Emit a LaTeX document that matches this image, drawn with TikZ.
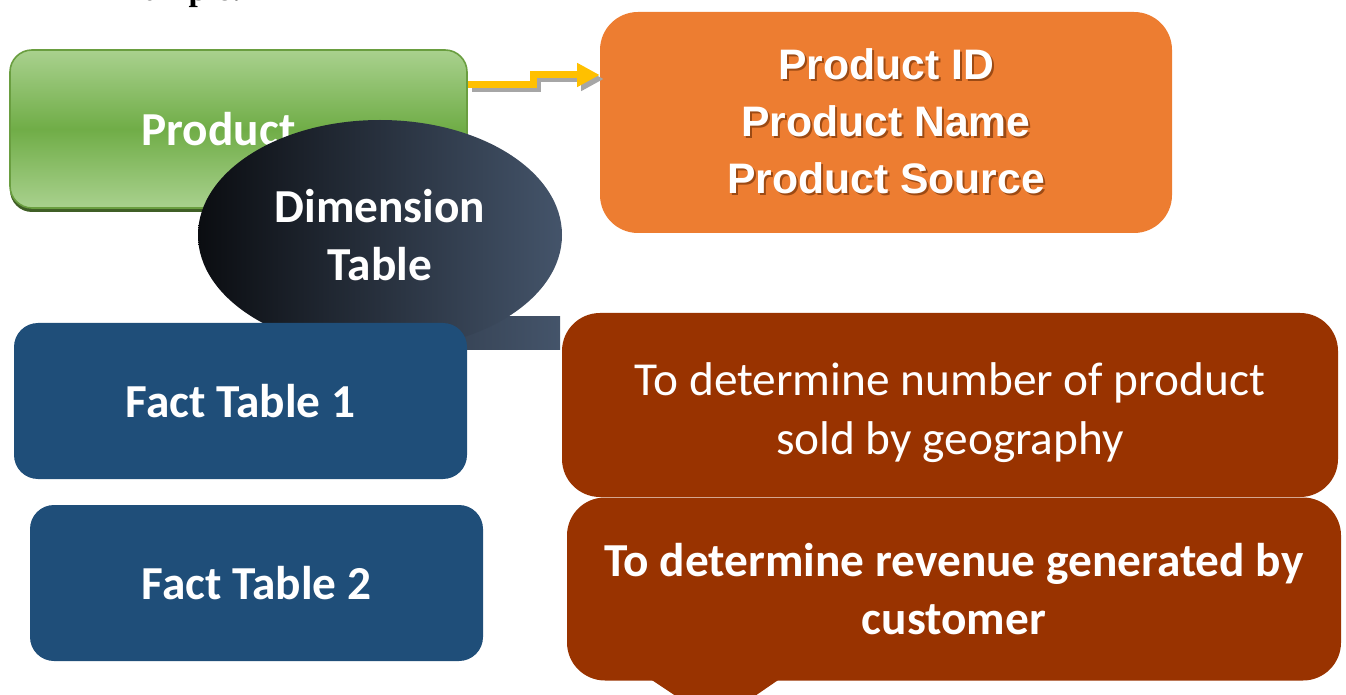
\documentclass[tikz,border=0pt]{standalone}
\usepackage{fontspec}
\setmainfont{Carlito}
\newfontfamily\arialfont{Liberation Sans}
\newfontfamily\timesfont{Liberation Serif}
\usetikzlibrary{shapes.geometric,arrows.meta,shadows}

\definecolor{greenmid}{HTML}{70AD47}
\definecolor{greenlight}{HTML}{A9D18E}
\definecolor{greenedge}{HTML}{6A9E40}
\definecolor{orangebox}{HTML}{ED7D31}
\definecolor{orangeshade}{HTML}{9C4A14}
\definecolor{darkblue}{HTML}{1F4E79}
\definecolor{brownbox}{HTML}{993300}
\definecolor{slatedark}{HTML}{0B0D11}
\definecolor{slatelight}{HTML}{44546A}
\definecolor{arrowgold}{HTML}{FFC000}

% white text with a soft shadow, one line at a time
\newcommand{\shline}[1]{\makebox[0pt][l]{\hspace{1.6pt}\raisebox{-1.6pt}{\color{orangeshade}#1}}#1}

\tikzset{
  boxtext/.style={text=white, align=center, font=\fontsize{35.5pt}{43pt}\selectfont\bfseries},
  greenbox/.style={rectangle, rounded corners=16.5pt, minimum width=342.75pt,
    minimum height=118.5pt, draw=greenedge, line width=1.2pt,
    top color=greenlight, bottom color=greenlight, middle color=greenmid,
    drop shadow={shadow xshift=0pt, shadow yshift=-3pt, fill=greenedge!60!black, opacity=1}},
  attrbox/.style={rectangle, rounded corners=28.5pt, minimum width=429pt,
    minimum height=165.75pt, fill=orangebox, text=white, align=center,
    font=\arialfont\fontsize{32pt}{42.75pt}\selectfont\bfseries},
  dimnode/.style={ellipse, inner sep=0pt, minimum width=273pt, minimum height=172.5pt,
    left color=slatedark, right color=slatelight, boxtext},
  factbox/.style={rectangle, rounded corners=18pt, minimum width=339.75pt,
    minimum height=117pt, fill=darkblue, boxtext},
  goalbox/.style={rectangle, rounded corners=28.5pt, minimum width=582pt,
    minimum height=138pt, fill=brownbox, boxtext},
  goldarrow/.style={draw=arrowgold, line width=5.25pt, line join=miter,
    -{Triangle[length=17pt,width=17pt]}},
}

\begin{document}
\begin{tikzpicture}[x=0.75pt, y=-0.75pt]
  \path[use as bounding box, clip] (0,0) rectangle (1346,695);

  % heading, cut at the top
  \node[anchor=base west, inner sep=0pt, font=\timesfont\fontsize{25pt}{30pt}\selectfont\bfseries]
    (head) at (105,1) {Example:};

  % product box and its attributes
  \node[greenbox, label={[boxtext, xshift=-15pt]center:Product}] (prod) at (238.5,129) {};
  \node[attrbox] (attr) at (886,122.5)
    {\shline{Product ID}\\ \shline{Product Name}\\ \shline{Product Source}};

  % stepped arrow with its grey shadow
  \draw[goldarrow, draw=black!35, transform canvas={xshift=3pt, yshift=-3pt}]
    (prod.east |- 0,85) -- (533,85) -- (533,75) -- (attr.west |- 0,75);
  \draw[goldarrow] (prod.east |- 0,85) -- (533,85) -- (533,75) -- (attr.west |- 0,75);

  % dimension table callout
  \shade[left color=slatelight!74!slatedark, right color=slatelight]
    (440,317) -- (560,317) -- (560,350) -- (440,350) -- cycle;
  \node[dimnode] (dim) at (380,235) {Dimension\\Table};

  % fact tables
  \node[factbox] (fact1) at (240.5,401) {Fact Table 1};
  \node[factbox] (fact2) at (256.5,583) {Fact Table 2};

  % purposes
  \node[goalbox, label={[boxtext, yshift=-6pt, font=\fontsize{35.5pt}{44.25pt}\selectfont]center:To determine number of product\\sold by geography}]
    (goal1) at (950,405) {};
  \node[goalbox, minimum width=580.5pt, minimum height=137.25pt, font=\fontsize{35.5pt}{44pt}\selectfont\bfseries]
    (goal2) at (954,589) {To determine revenue generated by\\customer};
  \fill[brownbox] ([xshift=-228pt, yshift=1.5pt]goal2.south) -- ([xshift=-178.5pt, yshift=-31.5pt]goal2.south)
    -- ([xshift=-130.5pt, yshift=1.5pt]goal2.south) -- cycle;
\end{tikzpicture}
\end{document}
